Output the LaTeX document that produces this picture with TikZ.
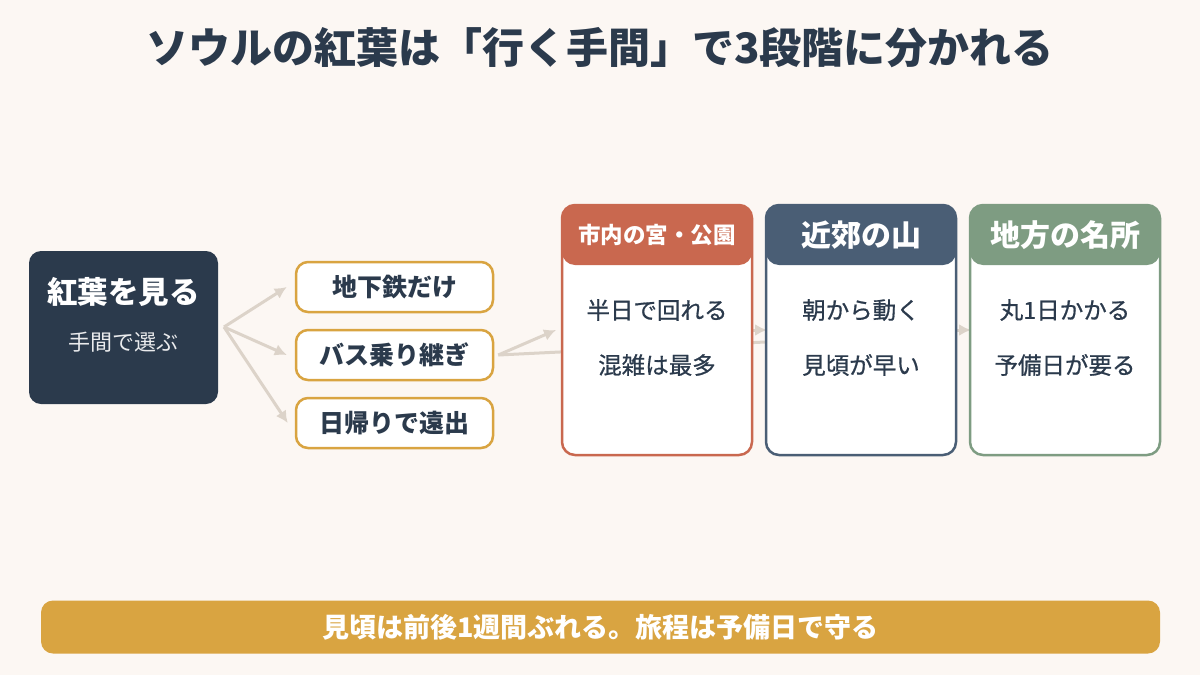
\documentclass[tikz,border=0pt]{standalone}
\usepackage{fontspec}
\setmainfont{Noto Sans CJK JP}
\newfontfamily\medfont[FakeBold=0.7]{Noto Sans CJK JP}
\usetikzlibrary{arrows.meta}
\definecolor{bgc}{HTML}{FCF7F3}
\definecolor{ink}{HTML}{2B3A4C}
\definecolor{gold}{HTML}{D9A441}
\definecolor{redc}{HTML}{C9684F}
\definecolor{bluec}{HTML}{4A5E75}
\definecolor{greenc}{HTML}{7E9C82}
\definecolor{arr}{HTML}{DCD3C9}
\tikzset{
  optbox/.style={draw=gold, line width=2.5pt, fill=white, rounded corners=12pt, minimum width=197pt, minimum height=50pt, inner sep=0pt},
  opttext/.style={font=\fontsize{25}{28}\selectfont\bfseries, text=ink},
  card/.style={draw=#1, line width=2.5pt, fill=white, rounded corners=13pt, minimum width=190pt, minimum height=250pt, inner sep=0pt,
    path picture={\fill[#1] (path picture bounding box.north west) rectangle ([yshift=-60pt]path picture bounding box.north east);}},
  headtext/.style={font=\fontsize{#1}{#1}\selectfont\bfseries, text=white},
  bodytext/.style={font=\fontsize{23.5}{27}\medfont, text=ink},
  link/.style={draw=arr, line width=3pt, -{Latex[length=12pt,width=12pt]}}
}
\begin{document}
\begin{tikzpicture}[x=1pt,y=-1pt]
\fill[bgc] (0,0) rectangle (1200,675);
\useasboundingbox (0,0) rectangle (1200,675);
\node[font=\fontsize{42}{46}\selectfont\bfseries, text=ink] (title) at (600,48) {ソウルの紅葉は「行く手間」で3段階に分かれる};
% left box
\node[fill=ink, rounded corners=12pt, minimum width=189pt, minimum height=153pt, inner sep=0pt] (start) at (123.5,327.5) {};
\node[font=\fontsize{30.5}{34}\selectfont\bfseries, text=white] (starttitle) at (123.5,292) {紅葉を見る};
\node[font=\fontsize{22}{25}\selectfont\mdseries, text=white!90!ink] (startsub) at (123.5,342) {手間で選ぶ};
% options
\node[optbox] (o1) at (394.5,287) {};
\node[optbox] (o2) at (394.5,355) {};
\node[optbox] (o3) at (394.5,423) {};
\node[opttext] at (o1) {地下鉄だけ};
\node[opttext] at (o2) {バス乗り継ぎ};
\node[opttext] at (o3) {日帰りで遠出};
% card positions
\coordinate (cityc) at (657,330);
\coordinate (mtc) at (861,330);
\coordinate (regc) at (1065,330);
\coordinate (fork) at (224,327);
% connectors (behind cards)
\draw[link] (fork) -- ([xshift=-8pt]o1.west);
\draw[link] (fork) -- ([xshift=-8pt]o2.west);
\draw[link] (fork) -- ([xshift=-7pt]o3.west);
\draw[link] ([xshift=4pt]o2.east) -- (556,330);
\draw[draw=arr, line width=3pt] ([xshift=4pt]o2.east) -- (765,342);
\draw[link] (cityc) -- (767,330);
\draw[link] (mtc) -- (971,330);
% cards
\node[card=redc] (city) at (cityc) {};
\node[card=bluec] (mt) at (mtc) {};
\node[card=greenc] (reg) at (regc) {};
\node[headtext=22.5] at (657,235) {市内の宮・公園};
\node[headtext=30] at (861,235) {近郊の山};
\node[headtext=30] at (1065,235) {地方の名所};
\node[bodytext] at (657,310) {半日で回れる};
\node[bodytext] at (657,365) {混雑は最多};
\node[bodytext] at (861,310) {朝から動く};
\node[bodytext] at (861,365) {見頃が早い};
\node[bodytext] at (1065,310) {丸1日かかる};
\node[bodytext] at (1065,365) {予備日が要る};
% bottom bar
\node[fill=gold, rounded corners=12pt, minimum width=1119pt, minimum height=53pt, inner sep=0pt] (bar) at (600.5,627) {};
\node[font=\fontsize{27}{30}\selectfont\bfseries, text=white] at (bar) {見頃は前後1週間ぶれる。旅程は予備日で守る};
\end{tikzpicture}
\end{document}
